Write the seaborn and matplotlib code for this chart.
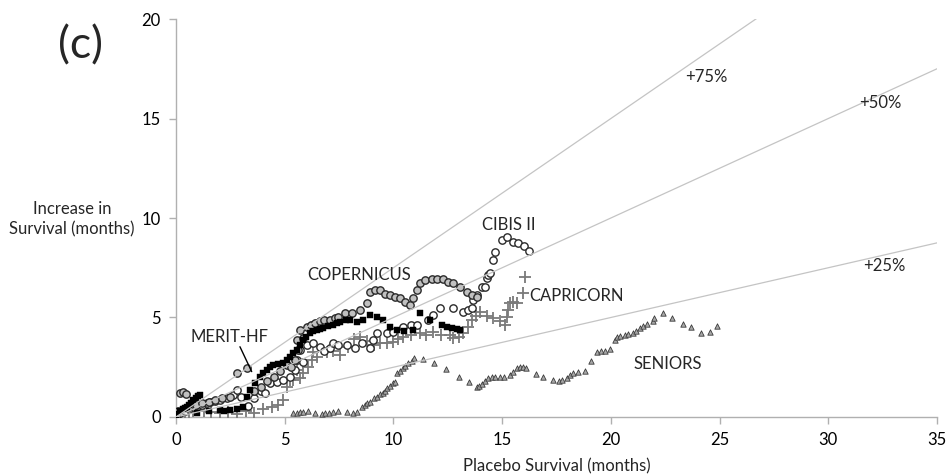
import matplotlib
matplotlib.use("Agg")
import matplotlib.pyplot as plt
import seaborn as sns
import numpy as np
import pandas as pd

# ---------------- data ----------------
merit_x = [0.0,0.1,0.2,0.3,0.4,0.5,0.6,0.7,0.8,0.9,1.0,1.1,0.95,1.5,2.0,2.2,2.5,2.8,3.1,3.25,
           3.4,3.63,3.86,4.0,4.17,4.3,4.48,4.7,4.94,5.1,5.24,5.4,5.55,5.7,5.86,6.0,6.16,6.3,6.47,6.6,
           6.78,7.0,7.24,7.4,7.54,7.8,8.0,8.31,8.62,8.92,9.23,9.54,9.84,10.15,10.5,10.9,11.22,11.68,12.22,12.45,
           12.68,12.91,13.06]
merit_y = [0.0,0.15,0.3,0.4,0.45,0.5,0.6,0.7,0.85,0.95,1.05,1.1,0.2,0.3,0.35,0.3,0.35,0.4,0.52,1.02,
           1.36,1.69,2.02,2.2,2.36,2.5,2.61,2.65,2.69,2.85,3.03,3.2,3.37,3.6,3.87,4.0,4.2,4.3,4.37,4.4,
           4.46,4.55,4.62,4.7,4.79,4.85,4.87,4.79,4.87,5.13,5.04,4.87,4.54,4.37,4.3,4.35,5.21,4.87,4.62,4.54,
           4.46,4.41,4.37]

cibis_x = [0.0,0.2,0.4,0.6,0.8,1.0,1.2,1.41,1.56,1.8,2.02,2.33,2.64,2.79,3.0,3.3,3.6,3.9,4.1,4.32,
           4.63,4.94,5.24,5.47,5.55,5.70,5.86,6.01,6.31,6.6,6.8,7.08,7.24,7.47,7.85,8.23,8.54,8.92,9.08,9.23,
           9.69,10.0,10.46,10.8,11.07,11.61,11.84,12.14,12.76,13.22,13.45,13.6,13.68,13.83,14.06,14.21,14.29,14.37,14.44,14.57,
           14.67,15.0,15.21,15.52,15.75,16.0,16.25]
cibis_y = [0.0,0.2,0.3,0.4,0.5,0.55,0.6,0.7,0.77,0.8,0.85,0.94,1.1,1.36,1.0,0.55,0.95,1.3,1.2,1.69,
           1.77,1.86,2.02,2.36,2.86,3.37,2.78,3.62,3.70,3.5,3.3,3.45,3.70,3.62,3.62,3.45,3.70,3.45,3.87,4.2,
           4.2,4.29,4.54,4.6,4.62,4.87,5.13,5.46,5.46,5.29,5.38,5.46,5.88,6.13,6.55,6.55,6.97,7.14,7.22,7.89,
           8.31,8.9,9.06,8.81,8.73,8.6,8.36]

coper_x = [0.0,0.1,0.2,0.3,0.45,0.6,0.9,1.2,1.5,1.8,2.1,2.5,2.79,3.25,3.6,3.9,4.2,4.5,4.8,5.1,
           5.3,5.47,5.55,5.63,5.70,5.86,6.01,6.2,6.4,6.6,6.8,7.08,7.3,7.47,7.77,8.08,8.46,8.77,8.92,9.15,
           9.38,9.61,9.84,10.07,10.30,10.53,10.76,10.92,11.07,11.22,11.45,11.76,11.99,12.30,12.53,12.76,13.06,13.37,13.6,13.83]
coper_y = [0.0,0.3,1.2,1.25,1.15,0.5,0.6,0.7,0.75,0.85,0.95,1.0,2.19,2.44,1.3,1.5,1.8,2.0,2.3,2.6,
           2.5,2.86,3.87,3.37,4.37,3.95,4.54,4.6,4.7,4.8,4.85,4.87,4.95,5.04,5.21,5.21,5.38,5.71,6.30,6.38,
           6.38,6.2,6.13,6.05,5.97,5.80,5.63,5.97,6.38,6.72,6.88,6.92,6.92,6.92,6.80,6.72,6.55,6.30,6.13,6.01]

capri_x = [0.0,0.2,0.4,0.6,0.8,1.0,1.3,1.6,2.0,2.4,2.8,3.2,3.6,4.0,4.4,4.7,4.94,5.09,5.24,5.40,
           5.55,5.70,5.85,6.08,6.24,6.31,6.5,6.93,7.2,7.54,7.9,8.2,8.46,8.8,9.1,9.4,9.69,10.0,10.2,10.45,
           10.8,11.22,11.5,11.83,12.2,12.6,12.75,13.0,13.2,13.43,13.6,13.8,13.98,14.3,14.58,14.9,15.13,15.21,15.28,15.36,
           15.5,15.67,15.98,16.05]
capri_y = [0.0,0.1,0.2,0.25,0.3,0.35,0.3,0.25,0.2,0.25,0.15,0.3,0.2,0.4,0.5,0.6,0.85,1.52,1.86,1.86,
           2.36,1.96,2.2,2.53,2.86,3.28,3.0,3.28,3.3,3.12,3.5,3.9,4.04,3.8,3.6,3.7,3.70,3.78,3.9,4.04,
           4.1,4.21,4.12,4.29,4.12,4.12,3.97,4.0,4.21,4.54,4.87,5.1,5.29,5.1,4.97,4.8,4.62,5.04,5.38,5.71,
           5.79,5.71,6.21,7.02]

seniors_x = [5.40,5.55,5.70,5.86,6.09,6.40,6.70,6.86,7.05,7.24,7.47,7.85,8.16,8.31,8.54,8.69,8.80,8.92,9.12,9.23,
             9.38,9.51,9.61,9.72,9.84,10.0,10.07,10.15,10.30,10.43,10.53,10.69,10.84,10.96,11.38,11.87,12.42,13.03,13.49,13.83,
             13.95,14.06,14.21,14.37,14.52,14.67,14.90,15.09,15.37,15.49,15.67,15.82,15.98,16.10,16.56,16.90,17.36,17.63,17.74,17.97,
             18.12,18.28,18.50,18.81,19.09,19.35,19.53,19.73,19.96,20.19,20.27,20.42,20.65,20.81,21.00,21.16,21.34,21.50,21.65,21.93,
             21.99,22.39,22.80,23.31,23.67,24.13,24.56,24.87]
seniors_y = [0.18,0.22,0.23,0.27,0.30,0.22,0.15,0.18,0.22,0.27,0.30,0.23,0.22,0.27,0.49,0.60,0.72,0.77,0.94,1.02,
             1.14,1.22,1.32,1.44,1.56,1.69,1.78,2.23,2.33,2.45,2.56,2.73,2.83,2.95,2.90,2.73,2.40,2.03,1.78,1.49,
             1.56,1.66,1.81,1.94,1.99,2.03,2.03,2.03,2.11,2.28,2.45,2.53,2.53,2.48,2.16,2.03,1.86,1.81,1.86,1.94,
             2.11,2.19,2.24,2.33,2.81,3.28,3.32,3.33,3.40,3.87,4.00,4.07,4.12,4.15,4.20,4.34,4.46,4.57,4.67,4.84,
             4.96,5.24,4.99,4.67,4.51,4.24,4.29,4.57]

ref_pcts = [0.25, 0.50, 0.75]
ref_labels = ["+25%", "+50%", "+75%"]

# ---------------- figure ----------------
sns.set_style("white")
plt.rcParams['font.family'] = ['Lato', 'DejaVu Sans']

fig = plt.figure(figsize=(9.5, 4.76), dpi=100)
ax = fig.add_axes([0.1853, 0.124, 0.801, 0.836])

# reference lines (drawn on top, light grey)
xx = np.array([0, 35.0])
for p in ref_pcts:
    sns.lineplot(x=xx, y=p * xx, ax=ax, color="#c4c4c4", linewidth=0.9, zorder=10)

sns.scatterplot(x=seniors_x, y=seniors_y, ax=ax, marker="^", s=15,
                color="#a8a8a8", edgecolor="#3a3a3a", linewidth=0.6, zorder=3)
sns.scatterplot(x=capri_x, y=capri_y, ax=ax, marker="+", s=80,
                color="#7a7a7a", linewidth=1.3, zorder=3)
sns.scatterplot(x=cibis_x, y=cibis_y, ax=ax, marker="o", s=28,
                facecolor="white", edgecolor="#2a2a2a", linewidth=1.0, zorder=4)
sns.scatterplot(x=coper_x, y=coper_y, ax=ax, marker="o", s=28,
                facecolor="#c0c0c0", edgecolor="#2a2a2a", linewidth=1.0, zorder=4)
sns.scatterplot(x=merit_x, y=merit_y, ax=ax, marker="s", s=22,
                color="black", edgecolor="black", linewidth=0.3, zorder=5)

ax.set_xlim(0, 35)
ax.set_ylim(0, 20)
ax.set_xticks([0, 5, 10, 15, 20, 25, 30, 35])
ax.set_yticks([0, 5, 10, 15, 20])
for side in ["top", "right"]:
    ax.spines[side].set_visible(False)
for side in ["left", "bottom"]:
    ax.spines[side].set_color("#b0b0b0")
    ax.spines[side].set_linewidth(1.0)
ax.tick_params(axis="both", direction="out", length=5, width=1.0, color="#b0b0b0",
               labelsize=12, labelcolor="black", pad=6, bottom=True, left=True)

ax.set_xlabel("Placebo Survival (months)", fontsize=12, labelpad=7)
ax.set_ylabel("")
fig.text(72 / 950, 1 - 219 / 476, "Increase in\nSurvival (months)", ha="center",
         va="center", fontsize=12, linespacing=1.35)
fig.text(80 / 950, 1 - 46 / 476, "(c)", ha="center", va="center", fontsize=32)

# reference line labels
ax.text(24.4, 17.1, "+75%", fontsize=12, ha="center", va="center", zorder=12)
ax.text(32.4, 15.8, "+50%", fontsize=12, ha="center", va="center", zorder=12)
ax.text(32.6, 7.6, "+25%", fontsize=12, ha="center", va="center", zorder=12)

# series labels
ax.text(8.4, 7.15, "COPERNICUS", fontsize=12, ha="center", va="center", zorder=12)
ax.text(15.3, 9.65, "CIBIS II", fontsize=12, ha="center", va="center", zorder=12)
ax.text(16.25, 6.08, "CAPRICORN", fontsize=12, ha="left", va="center", zorder=12)
ax.text(22.6, 2.66, "SENIORS", fontsize=12, ha="center", va="center", zorder=12)
ax.text(2.48, 4.02, "MERIT-HF", fontsize=12, ha="center", va="center", zorder=12)
ax.plot([2.94, 3.48], [3.53, 2.28], color="black", linewidth=1.0, zorder=12)

fig.savefig("out.png", dpi=100)
